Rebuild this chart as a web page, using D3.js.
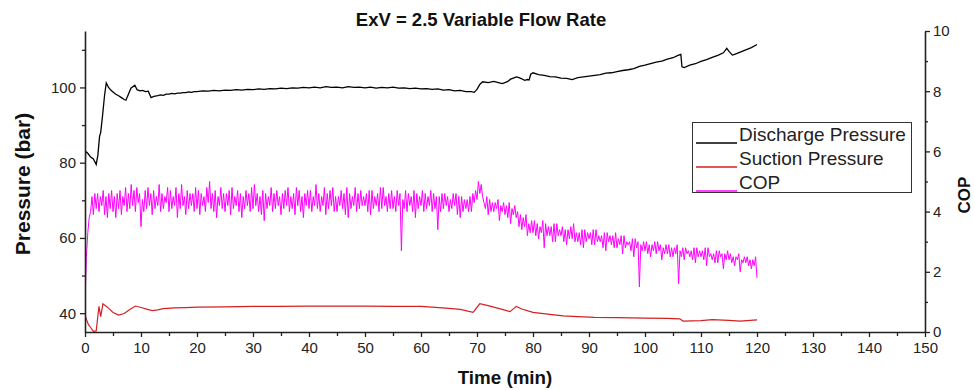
<!DOCTYPE html>
<html>
<head>
<meta charset="utf-8">
<script src="https://cdn.jsdelivr.net/npm/d3@7"></script>
<style>
  body { margin: 0; background: #fff; }
  svg { display: block; font-family: Arial, "Liberation Sans", sans-serif; }
</style>
</head>
<body>
<svg id="chart" width="974" height="390"></svg>
<script>
// ---- Data ----
const titleText = "ExV = 2.5 Variable Flow Rate";
const xTicks = [0,10,20,30,40,50,60,70,80,90,100,110,120,130,140,150];
const leftTicks = [40,60,80,100];
const rightTicks = [0,2,4,6,8,10];

const dischargeTime = [0,0.1,0.5,1,1.5,2,2.3,2.6,2.8,3.1,3.5,3.8,4.2,4.6,5,5.5,6,6.5,7,7.3,7.7,8.2,8.9,9.3,9.8,10.3,10.8,11.3,11.8,12.3,13,13.5,14,14.5,15,15.5,16,16.5,17,17.5,18,18.5,19,19.5,20,21,22,23,24,25,26,27,28,29,30,31,32,33,34,35,36,37,38,39,40,41,42,43,44,45,46,47,48,49,50,51,52,53,54,55,56,57,58,59,60,61,62,63,64,65,66,67,68,69,69.5,70,70.5,71,72,73,74,74.5,75,75.5,76,76.5,77,77.5,78,78.5,79,79.3,79.6,80,81,82,83,84,85,86,87,88,89,90,91,92,93,94,95,96,97,98,99,100,101,102,103,104,105,106,106.4,106.6,107,108,109,110,111,112,113,114,114.6,115,115.6,116,117,118,119,120];
const dischargeP = [75,83,82.5,81.5,81,79.5,82,87,88,92,98,101.2,100,99.3,98.8,98.2,97.8,97.3,96.8,96.6,98,99.8,100.6,99.4,99.1,99.2,98.9,99.0,97.3,97.6,97.8,98.0,97.9,98.2,98.2,98.4,98.3,98.5,98.5,98.6,98.6,98.8,98.7,98.9,98.9,99.1,99.0,99.2,99.1,99.3,99.2,99.4,99.3,99.5,99.4,99.6,99.5,99.7,99.6,99.8,99.7,99.9,99.8,100.0,99.9,100.1,99.9,100.2,100.0,100.1,99.9,100.2,100.0,100.1,99.9,100.1,99.8,100.0,99.9,100.1,99.8,99.9,99.7,99.8,99.6,99.7,99.5,99.6,99.3,99.4,99.1,99.2,98.9,98.9,98.7,99.5,100.8,101.5,101.3,101.6,101.2,101.0,101.3,101.6,102.2,102.5,102.8,102.6,102.3,101.9,102.1,102.0,103.5,103.9,103.4,103.2,102.9,102.8,102.5,102.4,102.1,102.6,102.8,103.0,103.2,103.4,103.8,103.9,104.2,104.5,104.7,105.0,105.6,105.9,106.3,106.7,107.0,107.5,107.9,108.6,108.8,105.5,105.3,105.9,106.3,106.9,107.4,108.0,108.5,109.2,110.4,109.6,108.6,108.8,109.4,110.0,110.6,111.4];

const suctionTime = [0,0.3,0.6,1,1.5,2,2.2,2.5,2.8,3.2,4,5,6,7,8,9,10,11,12,13,14,16,18,20,25,30,35,40,45,50,55,60,62,65,67,69.3,70.5,72,74,75.9,77,78,80,83,85.4,88,91,95,100,104,106.2,106.8,110,112,115,117,120];
const suctionP = [39.5,38.2,37,36.2,35.2,35.3,38,41.8,39.1,42.5,41.6,40.2,39.5,39.9,41.0,41.9,41.5,41.1,40.7,40.9,41.2,41.4,41.5,41.6,41.7,41.8,41.8,41.9,41.9,41.9,41.8,41.8,41.6,41.3,41.0,40.2,42.5,42.0,41.2,40.4,41.8,41.1,40.2,39.7,39.3,39.1,38.9,38.8,38.7,38.6,38.5,37.9,38.0,38.3,38.1,37.9,38.2];

// COP sampled every 0.25 min from 0 to 120
const copTime = d3.range(0, 120.001, 0.25);
const copValues = [
 1.0,2.5,3.3,3.8, 4.0,4.5,3.9,4.6, 4.1,4.6,4.0,4.5, 4.2,4.7,3.9,4.5, 3.8,4.6,4.1,4.7,
 4.0,4.5,3.8,4.6, 4.1,4.7,3.9,4.5, 4.2,4.8,4.0,4.6, 4.1,4.9,4.2,4.7, 4.0,4.8,4.3,4.6,
 3.5,4.4,4.0,4.7, 4.1,4.8,4.2,4.6, 3.9,4.7,4.1,4.5, 4.2,4.9,4.0,4.6, 4.1,4.5,4.3,4.8,
 4.0,4.7,4.1,4.5, 4.2,4.8,3.8,4.6, 4.1,4.9,4.2,4.5, 3.9,4.7,4.1,4.6, 4.2,4.6,4.0,4.8,
 4.1,4.7,3.9,4.6, 4.2,4.5,4.0,4.8, 4.3,5.0,4.1,4.6, 4.0,4.7,3.8,4.5, 4.2,4.8,4.1,4.6,
 4.0,4.6,4.2,4.7, 3.9,4.8,4.1,4.5, 4.2,4.7,4.0,4.6, 3.8,4.5,4.1,4.7, 4.2,4.6,4.0,4.8,
 4.1,4.9,4.2,4.6, 4.0,4.5,3.9,4.7, 3.7,4.6,4.1,4.5, 4.2,4.8,4.0,4.6, 4.1,4.7,4.2,4.5,
 3.9,4.6,4.1,4.7, 4.2,4.8,4.0,4.5, 4.1,4.6,3.9,4.8, 4.2,4.7,4.0,4.5, 3.8,4.6,4.2,4.7,
 4.1,4.7,4.0,4.5, 4.2,4.9,4.1,4.6, 4.0,4.5,4.2,4.8, 3.9,4.6,4.1,4.7, 4.2,4.8,4.0,4.5,
 4.0,4.5,4.2,4.7, 4.1,4.6,3.9,4.8, 3.8,4.6,4.1,4.5, 4.2,4.8,4.0,4.6, 4.1,4.7,4.2,4.5,
 4.2,4.6,4.0,4.7, 3.9,4.7,4.1,4.5, 4.2,4.6,4.0,4.8, 4.1,4.8,4.2,4.5, 4.0,4.6,4.1,4.7,
 4.1,4.5,4.0,4.7, 4.2,4.6,2.7,4.4, 4.1,4.7,4.0,4.6, 4.2,4.5,4.0,4.7, 3.8,4.6,4.1,4.5,
 4.2,4.7,4.0,4.6, 4.1,4.5,4.2,4.7, 4.0,4.6,4.1,4.5, 3.4,4.5,4.0,4.6, 4.1,4.6,4.2,4.5,
 4.0,4.4,4.1,4.6, 4.2,4.6,3.9,4.5, 3.8,4.5,4.0,4.4, 4.1,4.4,4.0,4.5, 4.0,4.6,4.3,4.7,
 4.4,5.0,4.6,4.9, 4.5,4.3,4.1,4.5, 3.9,4.4,4.0,4.3, 4.0,4.3,4.1,4.4, 3.7,4.2,4.0,4.3,
 3.9,4.2,3.8,4.3, 3.6,4.1,3.9,4.2, 3.8,4.0,3.5,3.9, 3.4,3.8,3.5,3.9, 3.2,3.6,3.3,3.7,
 3.3,3.7,3.2,3.6, 3.1,3.5,3.3,3.7, 2.8,3.6,3.2,3.5, 3.2,3.5,3.0,3.6, 3.0,3.6,3.2,3.4,
 3.2,3.5,3.0,3.4, 2.9,3.4,3.1,3.5, 3.1,3.6,3.0,3.3, 3.0,3.3,2.9,3.4, 2.8,3.4,3.0,3.3,
 3.1,3.3,2.9,3.4, 2.9,3.4,3.0,3.2, 3.0,3.2,2.8,3.3, 2.7,3.3,3.0,3.2, 2.9,3.2,2.8,3.3,
 2.8,3.1,2.9,3.2, 2.6,3.2,2.8,3.0, 2.9,3.0,2.7,3.1, 2.5,3.1,2.8,3.0, 1.5,2.9,2.7,3.0,
 2.7,3.0,2.6,2.9, 2.5,2.9,2.7,3.0, 2.6,3.0,2.7,2.9, 2.4,2.8,2.6,2.9, 2.6,2.9,2.5,2.8,
 2.5,2.8,2.6,2.9, 1.6,2.7,2.5,2.8, 2.4,2.8,2.6,2.7, 2.5,2.7,2.4,2.8, 2.3,2.8,2.5,2.7,
 2.5,2.7,2.4,2.8, 2.2,2.8,2.5,2.6, 2.4,2.6,2.3,2.7, 2.3,2.7,2.5,2.6, 2.1,2.6,2.4,2.7,
 2.4,2.6,2.3,2.5, 2.2,2.5,2.4,2.6, 2.0,2.4,2.3,2.5, 2.3,2.5,2.2,2.4, 2.1,2.4,2.2,2.5,
 1.8];

const legendLabels = ["Discharge Pressure","Suction Pressure","COP"];
const colors = ["#000000","#d62020","#ff00ff"];

// ---- Layout ----
const svg = d3.select("#chart");
const L = 85, R = 925, T = 31, B = 332;

const x = d3.scaleLinear().domain([0,150]).range([L,R]);
const yP = d3.scaleLinear().domain([35,115]).range([B,T]);
const yC = d3.scaleLinear().domain([0,10]).range([B,T]);

svg.append("clipPath").attr("id","clip")
  .append("rect").attr("x",L).attr("y",T).attr("width",R-L).attr("height",B-T);

const plot = svg.append("g").attr("clip-path","url(#clip)");

const lineP = (ts, vs) => d3.line().x((d,i)=>x(ts[i])).y((d,i)=>yP(vs[i]))(vs);
const lineC = d3.line().x((d,i)=>x(copTime[i])).y(d=>yC(d));

plot.append("path").attr("d", lineC(copValues))
  .attr("fill","none").attr("stroke",colors[2]).attr("stroke-width",1);
plot.append("path").attr("d", lineP(suctionTime, suctionP))
  .attr("fill","none").attr("stroke",colors[1]).attr("stroke-width",1.2);
plot.append("path").attr("d", lineP(dischargeTime, dischargeP))
  .attr("fill","none").attr("stroke",colors[0]).attr("stroke-width",1.3);

// ---- Axes ----
const axisColor = "#222";
function styleAxis(g){
  g.select(".domain").attr("stroke",axisColor).attr("stroke-width",1.6);
  g.selectAll(".tick line").attr("stroke",axisColor).attr("stroke-width",1.3);
  g.selectAll("text").attr("font-size",15).attr("fill","#222")
    .attr("font-family","Arial, 'Liberation Sans', sans-serif");
}
function minor(g){
  g.select(".domain").remove();
  g.selectAll("line").attr("stroke",axisColor).attr("stroke-width",1.3);
}

svg.append("g").attr("transform",`translate(0,${B})`)
  .call(d3.axisBottom(x).tickValues(d3.range(5,150,10)).tickSize(4).tickFormat("")).call(minor);
svg.append("g").attr("transform",`translate(${L},0)`)
  .call(d3.axisLeft(yP).tickValues([50,70,90,110]).tickSize(3).tickFormat("")).call(minor);
svg.append("g").attr("transform",`translate(${R},0)`)
  .call(d3.axisRight(yC).tickValues([1,3,5,7,9]).tickSize(3).tickFormat("")).call(minor);

svg.append("g").attr("transform",`translate(0,${B})`)
  .call(d3.axisBottom(x).tickValues(xTicks).tickSize(5).tickSizeOuter(0).tickPadding(5))
  .call(styleAxis);
svg.append("g").attr("transform",`translate(${L},0)`)
  .call(d3.axisLeft(yP).tickValues(leftTicks).tickSize(5).tickSizeOuter(0).tickPadding(4))
  .call(styleAxis);
svg.append("g").attr("transform",`translate(${R},0)`)
  .call(d3.axisRight(yC).tickValues(rightTicks).tickSize(5).tickSizeOuter(0).tickPadding(3))
  .call(styleAxis);

// ---- Titles ----
svg.append("text").attr("x",481).attr("y",26).attr("text-anchor","middle")
  .attr("font-size",18.5).attr("font-weight","bold").attr("fill","#111").text(titleText);
svg.append("text").attr("x",505).attr("y",384).attr("text-anchor","middle")
  .attr("font-size",18.8).attr("font-weight","bold").attr("fill","#111").text("Time (min)");
svg.append("text").attr("transform","translate(30,184) rotate(-90)").attr("text-anchor","middle")
  .attr("font-size",21).attr("font-weight","bold").attr("fill","#111").text("Pressure (bar)");
svg.append("text").attr("transform","translate(970,195) rotate(-90)").attr("text-anchor","middle")
  .attr("font-size",17).attr("font-weight","bold").attr("fill","#111").text("COP");

// ---- Legend ----
const lg = svg.append("g");
lg.append("rect").attr("x",692.5).attr("y",122.5).attr("width",219).attr("height",70)
  .attr("fill","#fff").attr("stroke","#333").attr("stroke-width",1);
const rowY = [141,165,189];
legendLabels.forEach((lab,i)=>{
  lg.append("line").attr("x1",696).attr("x2",737).attr("y1",rowY[i]+2).attr("y2",rowY[i]+2)
    .attr("stroke",colors[i]).attr("stroke-width",1.3);
  lg.append("text").attr("x",739).attr("y",rowY[i]).attr("font-size",19)
    .attr("fill","#222").text(lab);
});
</script>
</body>
</html>
